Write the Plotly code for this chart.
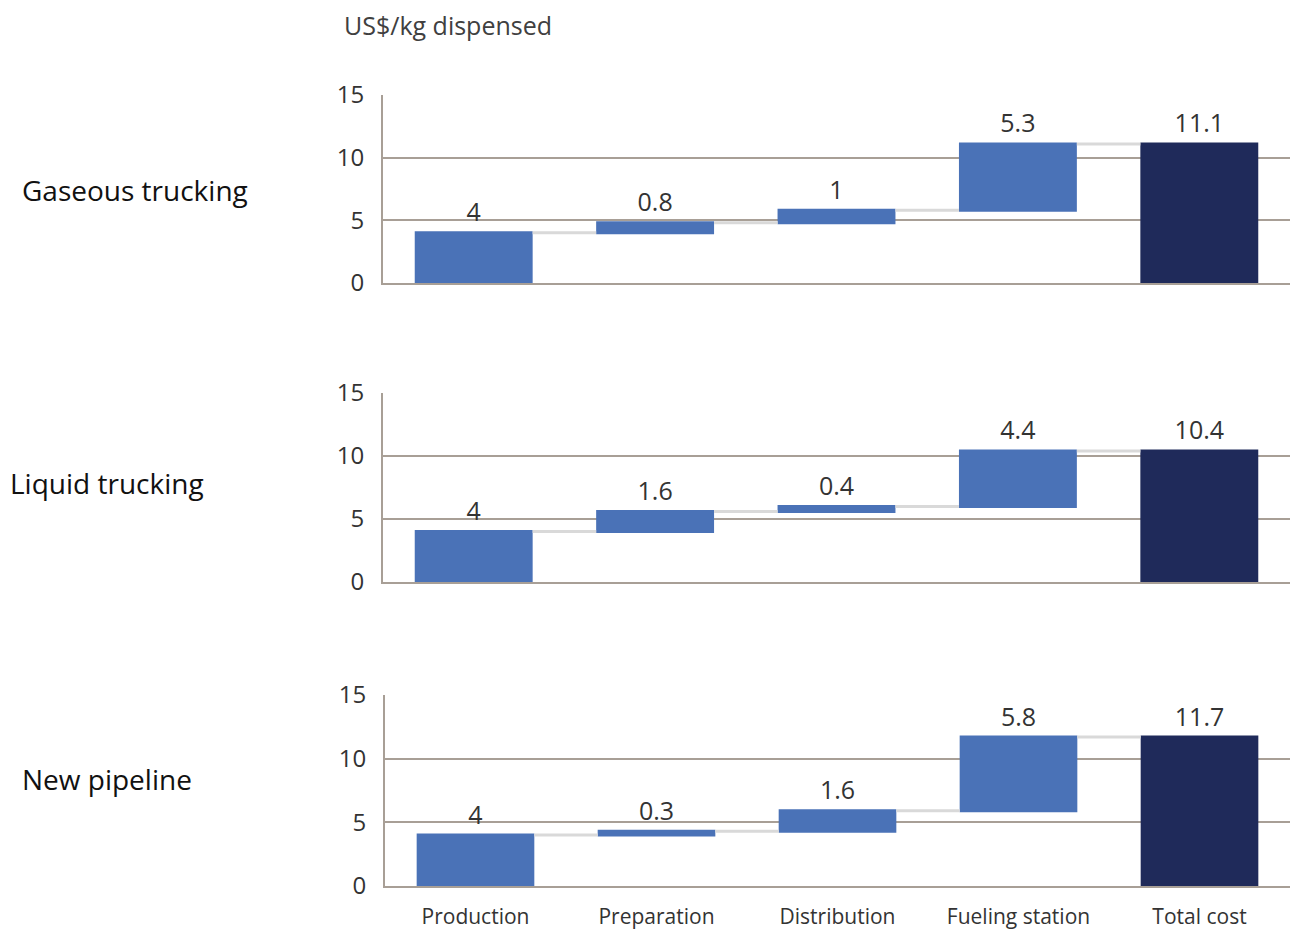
import plotly.graph_objects as go

categories = ["Production", "Preparation", "Distribution", "Fueling station", "Total cost"]
routes = ["Gaseous trucking", "Liquid trucking", "New pipeline"]
gaseous = [4, 0.8, 1, 5.3]
liquid = [4, 1.6, 0.4, 4.4]
pipeline = [4, 0.3, 1.6, 5.8]
totals = [11.1, 10.4, 11.7]
y_ticks = [0, 5, 10, 15]

series = [gaseous, liquid, pipeline]

FONT = "Open Sans"
GRID = "#a89f96"
BLUE = "#4a72b7"
NAVY = "#1f2a5a"
TXT = "#333333"

# pixel layout helpers (figure 1290 x 929)
W, H = 1290, 929
panels = [(95, 283, 383), (393, 582, 383), (695, 886, 385)]  # top, bottom, left

fig = go.Figure()
for i, (vals, tot) in enumerate(zip(series, totals)):
    ax = "" if i == 0 else str(i + 1)
    labels = [f"{v:g}" for v in vals] + [f"{tot:g}"]
    fig.add_trace(go.Waterfall(
        x=categories,
        y=vals + [0],
        measure=["relative"] * len(vals) + ["total"],
        text=labels,
        texttemplate="%{text}",
        textposition="outside",
        textfont=dict(family=FONT, size=25, color=TXT),
        increasing=dict(marker=dict(color=BLUE)),
        decreasing=dict(marker=dict(color=BLUE)),
        totals=dict(marker=dict(color=NAVY)),
        connector=dict(mode="between", line=dict(color="#d9d9d9", width=3)),
        cliponaxis=False,
        xaxis="x" + ax,
        yaxis="y" + ax,
        showlegend=False,
        hoverinfo="x+y",
    ))

layout = dict(
    width=W, height=H,
    margin=dict(l=0, r=0, t=0, b=0),
    paper_bgcolor="white", plot_bgcolor="white",
    waterfallgap=0.35,
    font=dict(family=FONT, color=TXT),
    annotations=[],
)
for i, (top, bottom, left) in enumerate(panels):
    ax = "" if i == 0 else str(i + 1)
    ydom = [(H - bottom) / H, (H - top) / H]
    xdom = [left / W, 1.0]
    layout["xaxis" + ax] = dict(
        domain=xdom, anchor="y" + ax, range=[-0.5, 4.5],
        showline=True, linecolor=GRID, linewidth=2,
        showgrid=False, ticks="",
        showticklabels=(i == 2), ticklabelstandoff=11,
        tickfont=dict(family=FONT, size=21, color=TXT),
        automargin=False, fixedrange=True,
    )
    layout["yaxis" + ax] = dict(
        domain=ydom, anchor="x" + ax, range=[0, 15],
        tickvals=y_ticks, ticktext=[str(t) for t in y_ticks],
        showline=True, linecolor=GRID, linewidth=2,
        showgrid=True, gridcolor=GRID, gridwidth=2,
        zeroline=False, ticks="", ticklabelstandoff=12,
        tickfont=dict(family=FONT, size=24, color=TXT),
        automargin=False, fixedrange=True,
    )

label_pos = [(20, 190), (8, 483), (20, 779)]
for name, (x, y) in zip(routes, label_pos):
    layout["annotations"].append(dict(
        text=name, x=x / W, y=1 - y / H, xref="paper", yref="paper",
        xanchor="left", yanchor="middle", showarrow=False,
        font=dict(family=FONT, size=28, color="#111111"),
    ))
layout["annotations"].append(dict(
    text="US$/kg dispensed", x=342 / W, y=1 - 25 / H, xref="paper", yref="paper",
    xanchor="left", yanchor="middle", showarrow=False,
    font=dict(family=FONT, size=25, color="#404040"),
))

fig.update_layout(**layout)
fig.write_html("out.html")
